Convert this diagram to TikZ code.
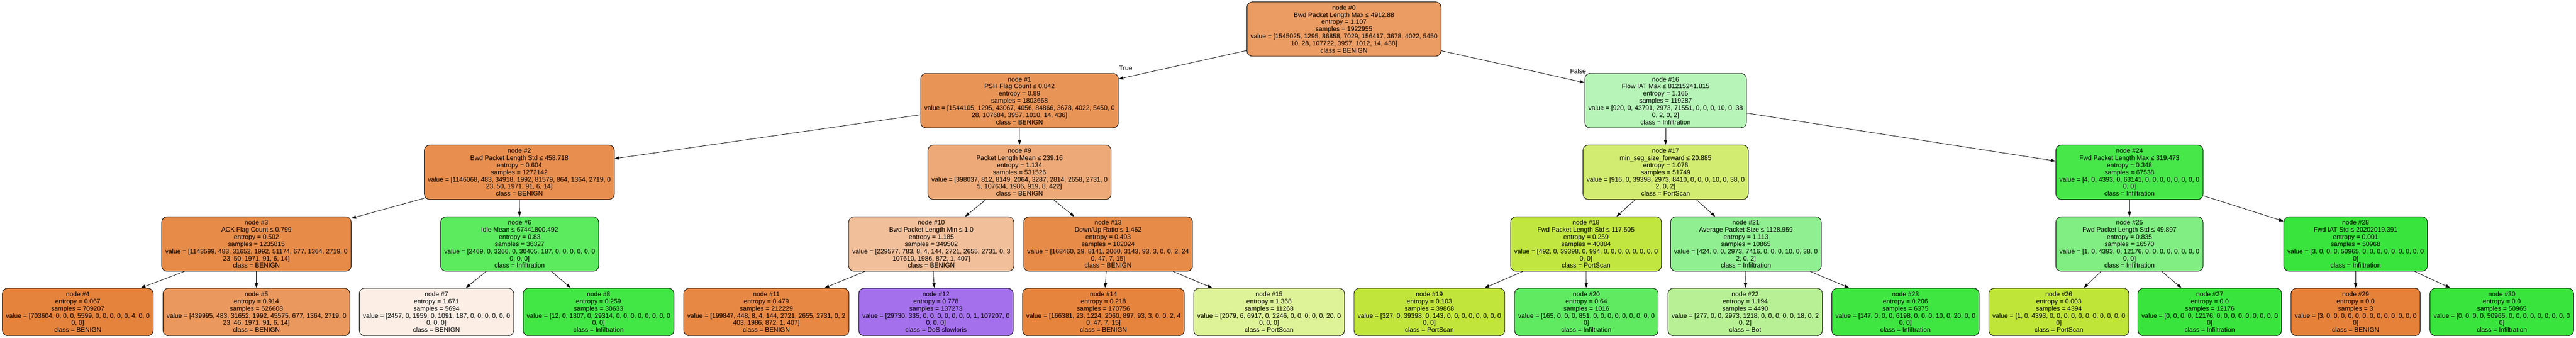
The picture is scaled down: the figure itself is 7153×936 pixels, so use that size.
\documentclass[tikz,border=0pt]{standalone}
\usepackage{fontspec}
\setmainfont{Liberation Sans}
\usepackage{tikz}
\usetikzlibrary{arrows.meta}

\definecolor{c0}{RGB}{235,156,99}
\definecolor{c1}{RGB}{233,148,87}
\definecolor{c2}{RGB}{232,142,78}
\definecolor{c3}{RGB}{231,139,72}
\definecolor{c4}{RGB}{229,130,59}
\definecolor{c5}{RGB}{234,152,93}
\definecolor{c6}{RGB}{92,234,95}
\definecolor{c7}{RGB}{252,238,229}
\definecolor{c8}{RGB}{66,230,69}
\definecolor{c9}{RGB}{237,169,119}
\definecolor{c10}{RGB}{242,191,155}
\definecolor{c11}{RGB}{231,136,69}
\definecolor{c12}{RGB}{164,112,236}
\definecolor{c13}{RGB}{231,139,72}
\definecolor{c14}{RGB}{230,132,62}
\definecolor{c15}{RGB}{222,242,152}
\definecolor{c16}{RGB}{182,245,183}
\definecolor{c17}{RGB}{210,236,113}
\definecolor{c18}{RGB}{194,230,64}
\definecolor{c19}{RGB}{193,229,59}
\definecolor{c20}{RGB}{95,234,98}
\definecolor{c21}{RGB}{144,240,145}
\definecolor{c22}{RGB}{184,241,149}
\definecolor{c23}{RGB}{63,230,66}
\definecolor{c24}{RGB}{71,231,74}
\definecolor{c25}{RGB}{128,238,130}
\definecolor{c26}{RGB}{192,229,57}
\definecolor{pure}{RGB}{57,229,60}
\definecolor{pureben}{RGB}{229,129,57}

\begin{document}
\begin{tikzpicture}[x=1pt,y=1pt,
  splitbox/.style={draw=black, line width=1.3pt, rounded corners=15pt, align=center,
    font=\fontsize{18}{19.8}\selectfont, minimum height=151pt, inner xsep=10pt, inner ysep=4pt},
  leafbox/.style={splitbox, minimum height=132pt},
  branch/.style={-{Triangle[length=13pt,width=9pt]}, line width=1.2pt},
  tf/.style={font=\fontsize{18}{19.8}\selectfont, inner sep=0pt}]
 \useasboundingbox (0,0) rectangle (7153,-936);
%0
 \node[splitbox,fill=c0] (n0) at (3732,-80.5) {node \#0\\Bwd Packet Length Max ≤ 4912.88\\entropy = 1.107\\samples = 1922955\\value = [1545025, 1295, 86858, 7029, 156417, 3678, 4022, 5450\\10, 28, 107722, 3957, 1012, 14, 438]\\class = BENIGN};
%1
 \node[splitbox,fill=c1] (n1) at (2831,-279) {node \#1\\PSH Flag Count ≤ 0.842\\entropy = 0.89\\samples = 1803668\\value = [1544105, 1295, 43067, 4056, 84866, 3678, 4022, 5450, 0\\28, 107684, 3957, 1010, 14, 436]\\class = BENIGN};
 \node[splitbox,fill=c16] (n16) at (4625,-279) {node \#16\\Flow IAT Max ≤ 81215241.815\\entropy = 1.165\\samples = 119287\\value = [920, 0, 43791, 2973, 71551, 0, 0, 0, 10, 0, 38\\0, 2, 0, 2]\\class = Infiltration};
 \node[tf] (true) at (3126,-189) {True};
 \node[tf] (false) at (4382,-198) {False};
%2
 \node[splitbox,fill=c2] (n2) at (1442,-477.5) {node \#2\\Bwd Packet Length Std ≤ 458.718\\entropy = 0.604\\samples = 1272142\\value = [1146068, 483, 34918, 1992, 81579, 864, 1364, 2719, 0\\23, 50, 1971, 91, 6, 14]\\class = BENIGN};
 \node[splitbox,fill=c9] (n9) at (2831,-477.5) {node \#9\\Packet Length Mean ≤ 239.16\\entropy = 1.134\\samples = 531526\\value = [398037, 812, 8149, 2064, 3287, 2814, 2658, 2731, 0\\5, 107634, 1986, 919, 8, 422]\\class = BENIGN};
 \node[splitbox,fill=c17] (n17) at (4625,-477.5) {node \#17\\min\_seg\_size\_forward ≤ 20.885\\entropy = 1.076\\samples = 51749\\value = [916, 0, 39398, 2973, 8410, 0, 0, 0, 10, 0, 38, 0\\2, 0, 2]\\class = PortScan};
 \node[splitbox,fill=c24] (n24) at (5913,-477.5) {node \#24\\Fwd Packet Length Max ≤ 319.473\\entropy = 0.348\\samples = 67538\\value = [4, 0, 4393, 0, 63141, 0, 0, 0, 0, 0, 0, 0, 0\\0, 0]\\class = Infiltration};
%3
 \node[splitbox,fill=c3] (n3) at (712,-676.5) {node \#3\\ACK Flag Count ≤ 0.799\\entropy = 0.502\\samples = 1235815\\value = [1143599, 483, 31652, 1992, 51174, 677, 1364, 2719, 0\\23, 50, 1971, 91, 6, 14]\\class = BENIGN};
 \node[splitbox,fill=c6] (n6) at (1443,-676.5) {node \#6\\Idle Mean ≤ 67441800.492\\entropy = 0.83\\samples = 36327\\value = [2469, 0, 3266, 0, 30405, 187, 0, 0, 0, 0, 0, 0\\0, 0, 0]\\class = Infiltration};
 \node[splitbox,fill=c10] (n10) at (2586,-676.5) {node \#10\\Bwd Packet Length Min ≤ 1.0\\entropy = 1.185\\samples = 349502\\value = [229577, 783, 8, 4, 144, 2721, 2655, 2731, 0, 3\\107610, 1986, 872, 1, 407]\\class = BENIGN};
 \node[splitbox,fill=c13] (n13) at (3077,-676.5) {node \#13\\Down/Up Ratio ≤ 1.462\\entropy = 0.493\\samples = 182024\\value = [168460, 29, 8141, 2060, 3143, 93, 3, 0, 0, 2, 24\\0, 47, 7, 15]\\class = BENIGN};
 \node[splitbox,fill=c18] (n18) at (4404,-676.5) {node \#18\\Fwd Packet Length Std ≤ 117.505\\entropy = 0.259\\samples = 40884\\value = [492, 0, 39398, 0, 994, 0, 0, 0, 0, 0, 0, 0, 0\\0, 0]\\class = PortScan};
 \node[splitbox,fill=c21] (n21) at (4848,-676.5) {node \#21\\Average Packet Size ≤ 1128.959\\entropy = 1.113\\samples = 10865\\value = [424, 0, 0, 2973, 7416, 0, 0, 0, 10, 0, 38, 0\\2, 0, 2]\\class = Infiltration};
 \node[splitbox,fill=c25] (n25) at (5913,-676.5) {node \#25\\Fwd Packet Length Std ≤ 49.897\\entropy = 0.835\\samples = 16570\\value = [1, 0, 4393, 0, 12176, 0, 0, 0, 0, 0, 0, 0, 0\\0, 0]\\class = Infiltration};
 \node[splitbox,fill=pure] (n28) at (6541,-676.5) {node \#28\\Fwd IAT Std ≤ 20202019.391\\entropy = 0.001\\samples = 50968\\value = [3, 0, 0, 0, 50965, 0, 0, 0, 0, 0, 0, 0, 0, 0\\0]\\class = Infiltration};
%4 leaves
 \node[leafbox,fill=c4] (n4) at (216,-865) {node \#4\\entropy = 0.067\\samples = 709207\\value = [703604, 0, 0, 0, 5599, 0, 0, 0, 0, 0, 4, 0, 0\\0, 0]\\class = BENIGN};
 \node[leafbox,fill=c5] (n5) at (712,-865) {node \#5\\entropy = 0.914\\samples = 526608\\value = [439995, 483, 31652, 1992, 45575, 677, 1364, 2719, 0\\23, 46, 1971, 91, 6, 14]\\class = BENIGN};
 \node[leafbox,fill=c7] (n7) at (1212,-865) {node \#7\\entropy = 1.671\\samples = 5694\\value = [2457, 0, 1959, 0, 1091, 187, 0, 0, 0, 0, 0, 0\\0, 0, 0]\\class = BENIGN};
 \node[leafbox,fill=c8] (n8) at (1662,-865) {node \#8\\entropy = 0.259\\samples = 30633\\value = [12, 0, 1307, 0, 29314, 0, 0, 0, 0, 0, 0, 0, 0\\0, 0]\\class = Infiltration};
 \node[leafbox,fill=c11] (n11) at (2128,-865) {node \#11\\entropy = 0.479\\samples = 212229\\value = [199847, 448, 8, 4, 144, 2721, 2655, 2731, 0, 2\\403, 1986, 872, 1, 407]\\class = BENIGN};
 \node[leafbox,fill=c12] (n12) at (2599,-865) {node \#12\\entropy = 0.778\\samples = 137273\\value = [29730, 335, 0, 0, 0, 0, 0, 0, 0, 1, 107207, 0\\0, 0, 0]\\class = DoS slowloris};
 \node[leafbox,fill=c14] (n14) at (3064,-865) {node \#14\\entropy = 0.218\\samples = 170756\\value = [166381, 23, 1224, 2060, 897, 93, 3, 0, 0, 2, 4\\0, 47, 7, 15]\\class = BENIGN};
 \node[leafbox,fill=c15] (n15) at (3524,-865) {node \#15\\entropy = 1.368\\samples = 11268\\value = [2079, 6, 6917, 0, 2246, 0, 0, 0, 0, 0, 20, 0\\0, 0, 0]\\class = PortScan};
 \node[leafbox,fill=c19] (n19) at (3969,-865) {node \#19\\entropy = 0.103\\samples = 39868\\value = [327, 0, 39398, 0, 143, 0, 0, 0, 0, 0, 0, 0, 0\\0, 0]\\class = PortScan};
 \node[leafbox,fill=c20] (n20) at (4405,-865) {node \#20\\entropy = 0.64\\samples = 1016\\value = [165, 0, 0, 0, 851, 0, 0, 0, 0, 0, 0, 0, 0, 0\\0]\\class = Infiltration};
 \node[leafbox,fill=c22] (n22) at (4846,-865) {node \#22\\entropy = 1.194\\samples = 4490\\value = [277, 0, 0, 2973, 1218, 0, 0, 0, 0, 0, 18, 0, 2\\0, 2]\\class = Bot};
 \node[leafbox,fill=c23] (n23) at (5291,-865) {node \#23\\entropy = 0.206\\samples = 6375\\value = [147, 0, 0, 0, 6198, 0, 0, 0, 10, 0, 20, 0, 0\\0, 0]\\class = Infiltration};
 \node[leafbox,fill=c26] (n26) at (5717,-865) {node \#26\\entropy = 0.003\\samples = 4394\\value = [1, 0, 4393, 0, 0, 0, 0, 0, 0, 0, 0, 0, 0, 0\\0]\\class = PortScan};
 \node[leafbox,fill=pure] (n27) at (6136,-865) {node \#27\\entropy = 0.0\\samples = 12176\\value = [0, 0, 0, 0, 12176, 0, 0, 0, 0, 0, 0, 0, 0, 0\\0]\\class = Infiltration};
 \node[leafbox,fill=pureben] (n29) at (6541,-865) {node \#29\\entropy = 0.0\\samples = 3\\value = [3, 0, 0, 0, 0, 0, 0, 0, 0, 0, 0, 0, 0, 0\\0]\\class = BENIGN};
 \node[leafbox,fill=pure] (n30) at (6947,-865) {node \#30\\entropy = 0.0\\samples = 50965\\value = [0, 0, 0, 0, 50965, 0, 0, 0, 0, 0, 0, 0, 0, 0\\0]\\class = Infiltration};
%edges
 \draw[branch] (n0) -- (n1);
 \draw[branch] (n0) -- (n16);
 \draw[branch] (n1) -- (n2);
 \draw[branch] (n1) -- (n9);
 \draw[branch] (n16) -- (n17);
 \draw[branch] (n16) -- (n24);
 \draw[branch] (n2) -- (n3);
 \draw[branch] (n2) -- (n6);
 \draw[branch] (n9) -- (n10);
 \draw[branch] (n9) -- (n13);
 \draw[branch] (n17) -- (n18);
 \draw[branch] (n17) -- (n21);
 \draw[branch] (n24) -- (n25);
 \draw[branch] (n24) -- (n28);
 \draw[branch] (n3) -- (n4);
 \draw[branch] (n3) -- (n5);
 \draw[branch] (n6) -- (n7);
 \draw[branch] (n6) -- (n8);
 \draw[branch] (n10) -- (n11);
 \draw[branch] (n10) -- (n12);
 \draw[branch] (n13) -- (n14);
 \draw[branch] (n13) -- (n15);
 \draw[branch] (n18) -- (n19);
 \draw[branch] (n18) -- (n20);
 \draw[branch] (n21) -- (n22);
 \draw[branch] (n21) -- (n23);
 \draw[branch] (n25) -- (n26);
 \draw[branch] (n25) -- (n27);
 \draw[branch] (n28) -- (n29);
 \draw[branch] (n28) -- (n30);
\end{tikzpicture}
\end{document}
